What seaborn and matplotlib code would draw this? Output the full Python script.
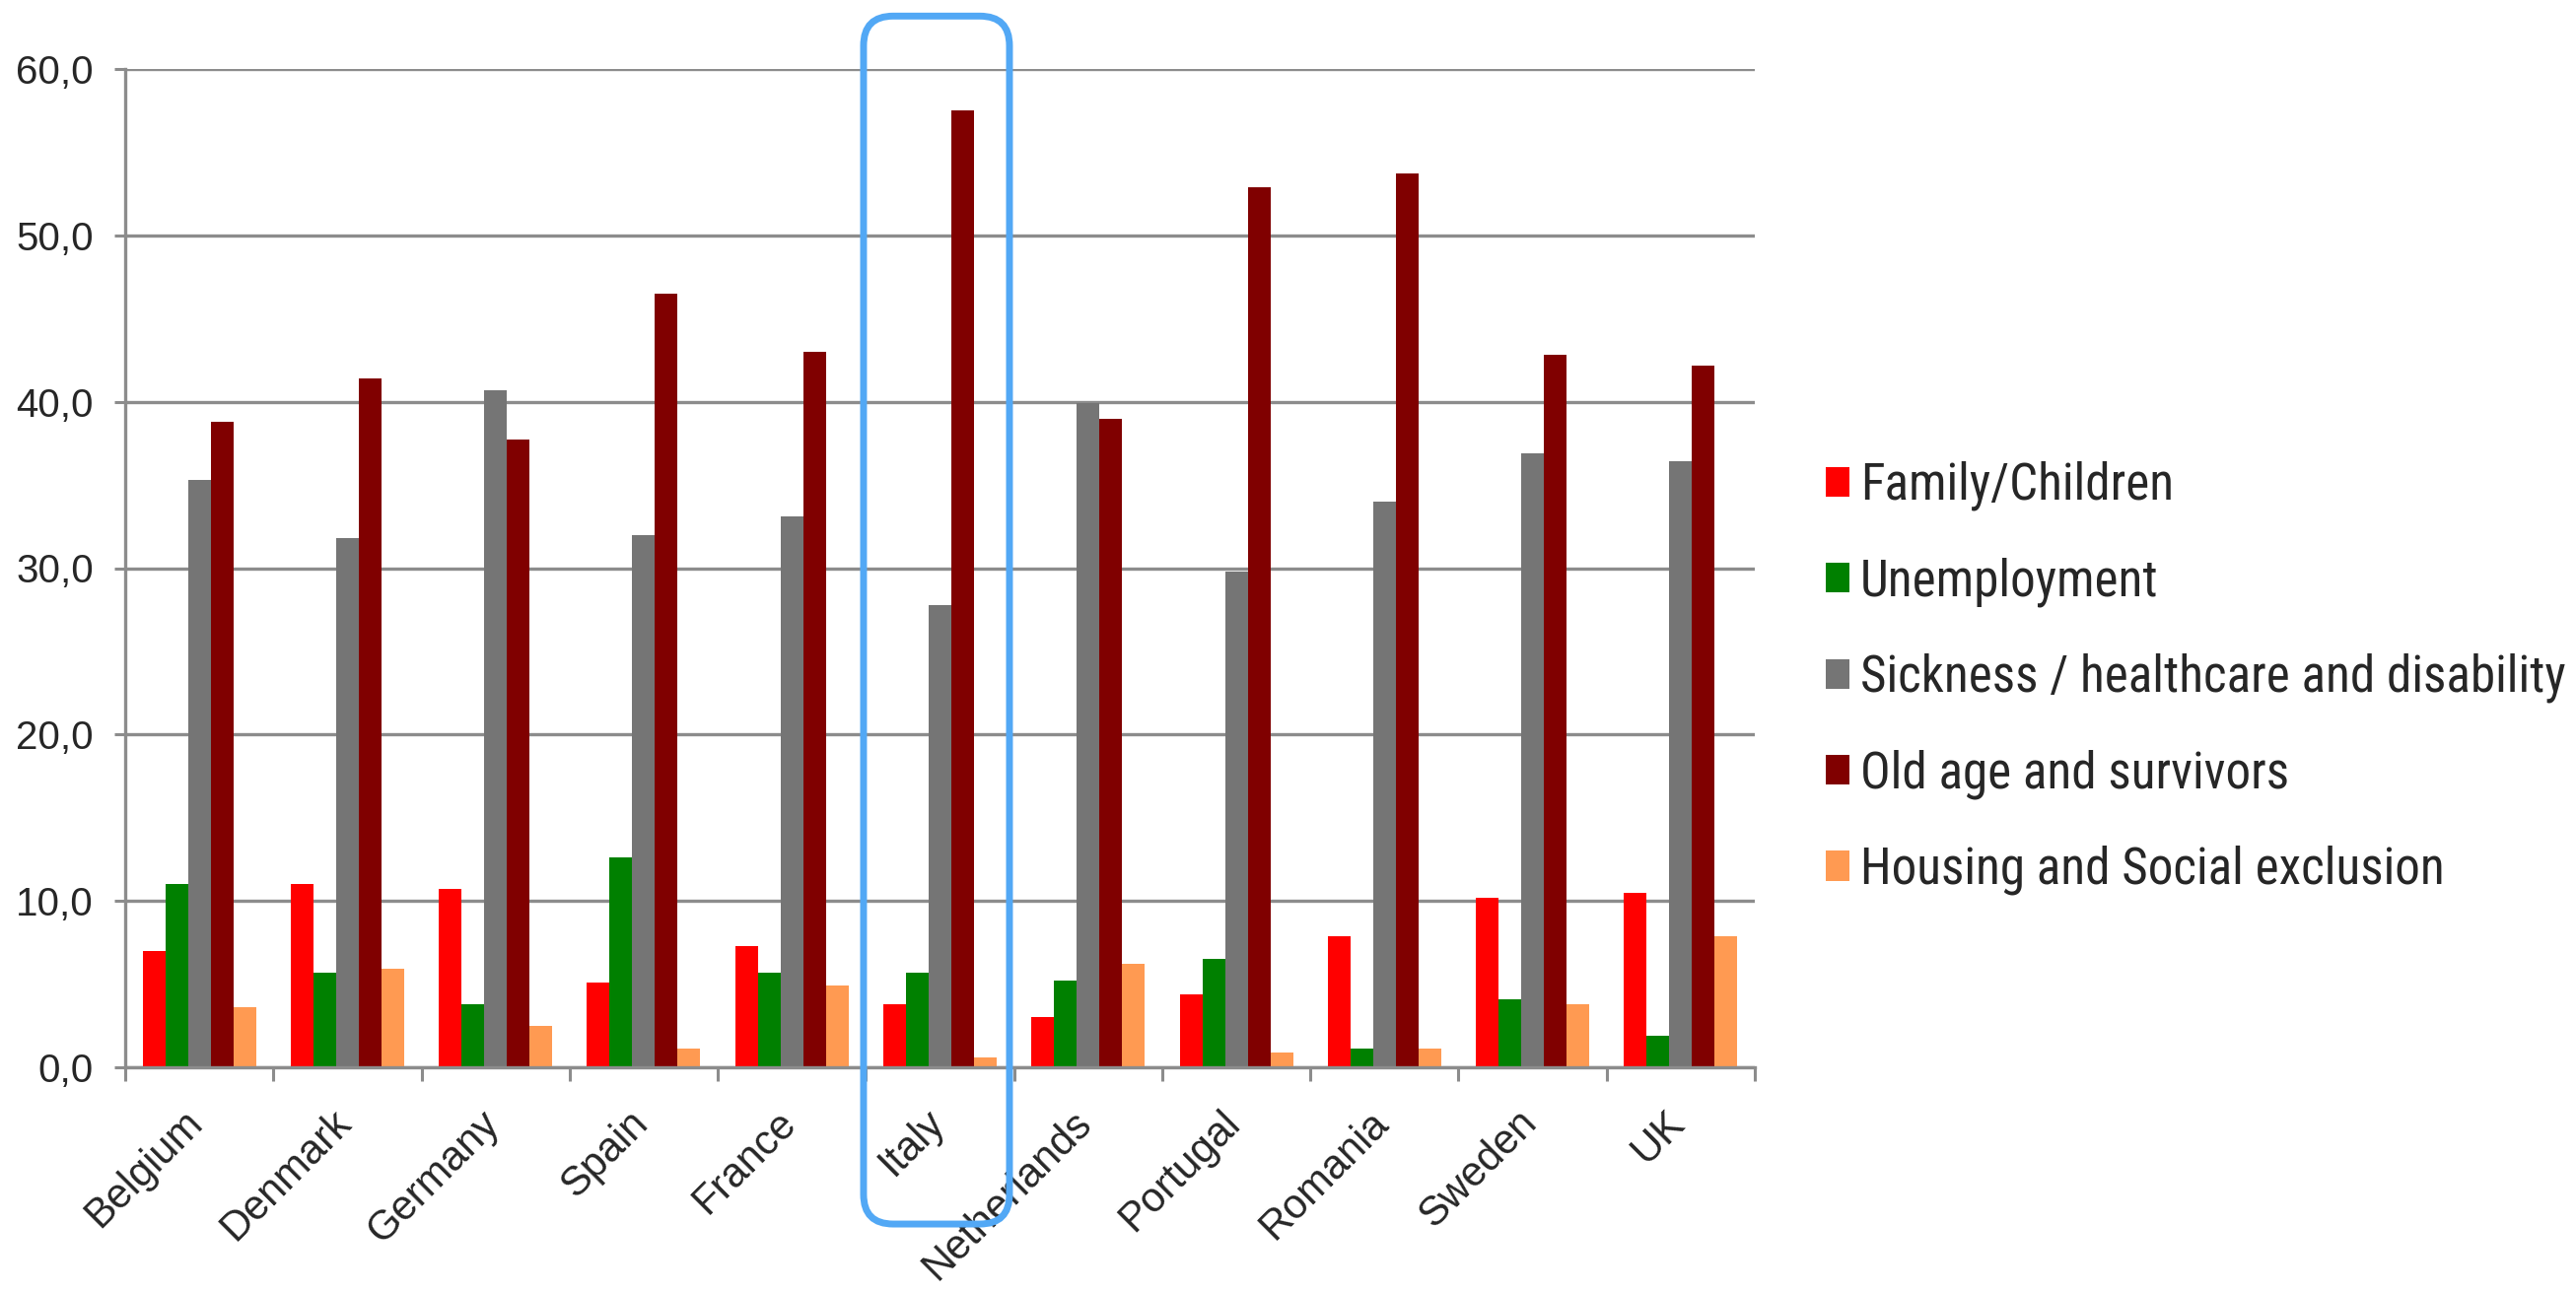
import matplotlib
matplotlib.use("Agg")
import matplotlib.pyplot as plt
import matplotlib.font_manager as fm
from matplotlib.patches import FancyBboxPatch
from matplotlib.transforms import blended_transform_factory, ScaledTranslation
from matplotlib.ticker import FuncFormatter, FixedLocator
import seaborn as sns
import pandas as pd

countries = ["Belgium", "Denmark", "Germany", "Spain", "France", "Italy",
             "Netherlands", "Portugal", "Romania", "Sweden", "UK"]
categories = ["Family/Children", "Unemployment",
              "Sickness / healthcare and disability",
              "Old age and survivors", "Housing and Social exclusion"]
family = [7.0, 11.0, 10.7, 5.1, 7.3, 3.8, 3.0, 4.4, 7.9, 10.2, 10.5]
unemployment = [11.0, 5.7, 3.8, 12.6, 5.7, 5.7, 5.2, 6.5, 1.1, 4.1, 1.9]
sickness = [35.3, 31.8, 40.7, 32.0, 33.1, 27.8, 39.9, 29.8, 34.0, 36.9, 36.4]
old_age = [38.8, 41.4, 37.7, 46.5, 43.0, 57.5, 39.0, 52.9, 53.7, 42.8, 42.2]
housing = [3.6, 5.9, 2.5, 1.1, 4.9, 0.6, 6.2, 0.9, 1.1, 3.8, 7.9]
colors = ["#FF0000", "#008000", "#757575", "#800000", "#FF9A52"]
highlight = "Italy"

series = [family, unemployment, sickness, old_age, housing]
rows = []
for cat, vals in zip(categories, series):
    for c, v in zip(countries, vals):
        rows.append({"country": c, "category": cat, "value": v})
df = pd.DataFrame(rows)

sns.set_theme(style="white")
plt.rcParams["font.family"] = ["Liberation Sans", "DejaVu Sans"]


def pick_narrow_font():
    entries = fm.fontManager.ttflist
    def ok(f):
        return f.style == "normal" and f.weight in (400, "normal", "regular", "book")
    prefs = ["Liberation Sans Narrow", "Arial Narrow", "Roboto Condensed",
             "Open Sans Condensed", "DejaVu Sans Condensed"]
    for p in prefs:
        for f in entries:
            if f.name == p and ok(f):
                return fm.FontProperties(fname=f.fname)
    for f in entries:
        if ok(f) and ("Narrow" in f.name or "Condensed" in f.name
                      or "condensed" in str(f.stretch)) and "Mono" not in f.name \
                and "Serif" not in f.name:
            return fm.FontProperties(fname=f.fname)
    return fm.FontProperties(family="Liberation Sans")


W, H = 2613, 1310
fig = plt.figure(figsize=(W / 100, H / 100), dpi=100)
ax = fig.add_axes([127 / W, 227 / H, (1780 - 127) / W, 1013 / H])

sns.barplot(data=df, x="country", y="value", hue="category", order=countries,
            hue_order=categories, palette=colors, saturation=1, width=0.765,
            gap=0, ax=ax, legend=True, edgecolor="none", linewidth=0)

grey = "#8C8C8C"
ax.set_ylim(0, 60)
ax.set_xlim(-0.5, len(countries) - 0.5)
ax.set_yticks(range(0, 61, 10))
ax.yaxis.set_major_formatter(FuncFormatter(lambda v, p: f"{v:.1f}".replace(".", ",")))
ax.grid(axis="y", color=grey, linewidth=2.4, zorder=0)
ax.grid(axis="x", visible=False)
ax.set_axisbelow(True)
for s in ["top", "right"]:
    ax.spines[s].set_visible(False)
for s in ["left", "bottom"]:
    ax.spines[s].set_color(grey)
    ax.spines[s].set_linewidth(2.4)
ax.set_xlabel("")
ax.set_ylabel("")

ax.tick_params(axis="y", which="major", direction="out", length=8, width=2.2,
               color=grey, labelsize=29, pad=15, left=True)
ax.tick_params(axis="x", which="major", length=0, labelsize=30, pad=26)
ax.xaxis.set_minor_locator(FixedLocator([i - 0.5 for i in range(len(countries) + 1)]))
ax.tick_params(axis="x", which="minor", direction="out", length=10, width=2.2,
               color=grey, bottom=True)
shift = ScaledTranslation(12 / 100, 0, fig.dpi_scale_trans)
for lab in ax.get_xticklabels():
    lab.set_rotation(45)
    lab.set_ha("right")
    lab.set_transform(lab.get_transform() + shift)

# legend: condensed font, sized so the longest label spans ~715 px as in the reference
prop = pick_narrow_font()
target_width = 715.0
row_height = 95.5


def place_legend(size):
    p = prop.copy()
    p.set_size(size)
    em = size * 100 / 72.0
    text_h = em * 0.95
    spacing = max((row_height - text_h) / em, 0.1)
    sns.move_legend(ax, loc="center left", bbox_to_anchor=(1852 / W, 1 - 688 / H),
                    bbox_transform=fig.transFigure, frameon=False, title=None,
                    prop=p, handlelength=24 / em, handleheight=27 / em,
                    handletextpad=11 / em, labelspacing=spacing,
                    borderpad=0, borderaxespad=0)


size = 36.0
place_legend(size)
fig.canvas.draw()
renderer = fig.canvas.get_renderer()
texts = ax.get_legend().get_texts()
wmax = max(t.get_window_extent(renderer).width for t in texts)
size = size * target_width / wmax
size = min(size, 44)
place_legend(size)

# highlight box around Italy
idx = countries.index(highlight)
trans = blended_transform_factory(ax.transData, ax.transAxes)
x0, x1 = idx - 0.516, idx + 0.469
y0, y1 = -0.157, 1.053
box = FancyBboxPatch((x0, y0), x1 - x0, y1 - y0,
                     boxstyle="round,pad=0,rounding_size=0.2",
                     transform=trans, clip_on=False, fill=False,
                     edgecolor="#52A8F5", linewidth=5, zorder=10,
                     mutation_aspect=150.3 / 1013)
ax.add_patch(box)

fig.savefig("out.png", dpi=100)
